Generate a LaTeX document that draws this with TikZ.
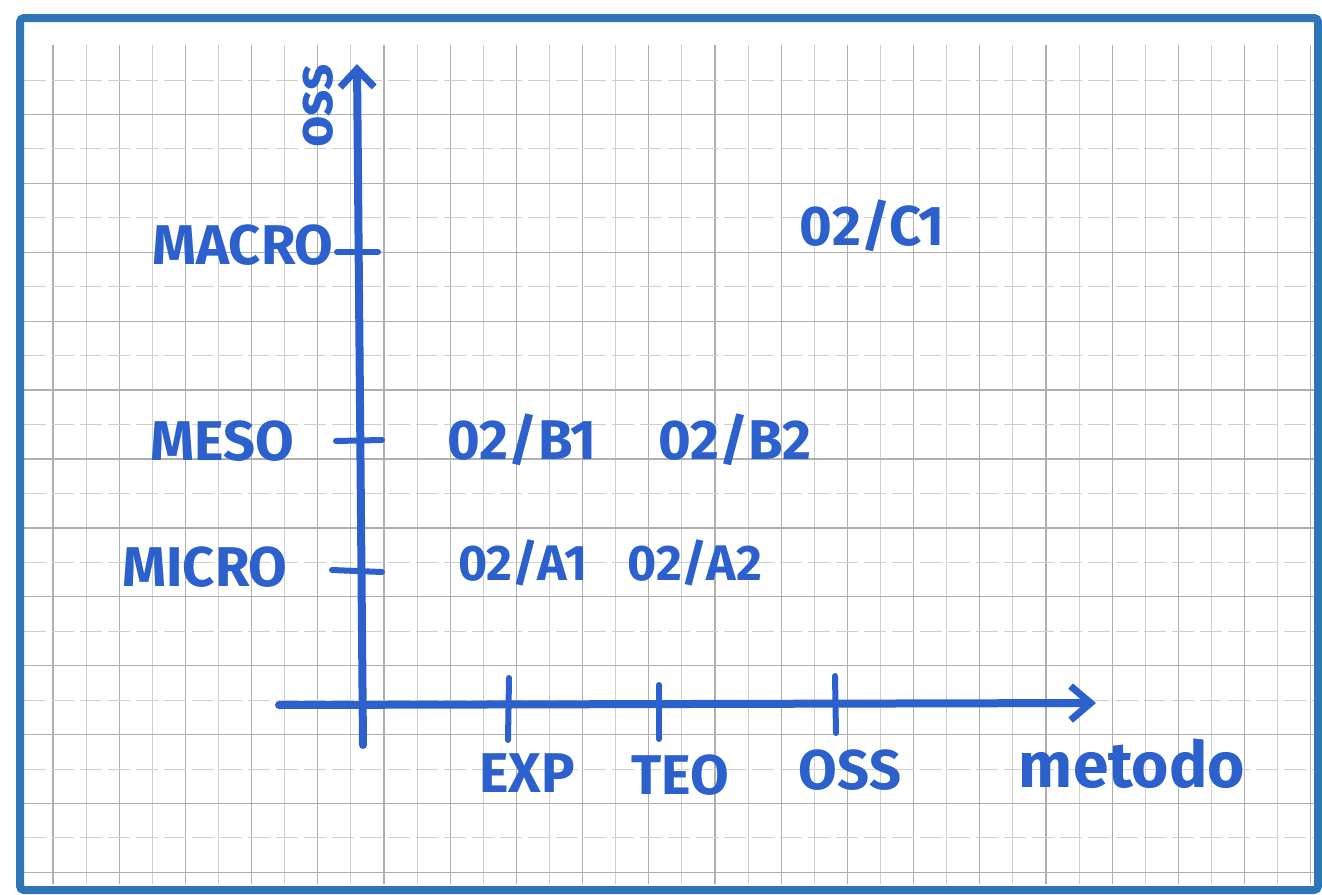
\documentclass[tikz,border=0pt]{standalone}
\usepackage{fontspec}
\setmainfont{Fira Sans}
\usetikzlibrary{arrows.meta}
\definecolor{ink}{RGB}{44,96,204}
\definecolor{frame}{RGB}{46,117,182}
\definecolor{gridc}{RGB}{175,175,175}
\tikzset{
  axis/.style={draw=ink, line width=8pt, line cap=round},
  tick/.style={draw=ink, line width=6pt, line cap=round},
  hand/.style={text=ink, font=\bfseries\fontsize{56}{56}\selectfont, inner sep=0pt},
  cell/.style={text=ink, font=\bfseries\fontsize{56}{56}\selectfont, inner sep=0pt},
  cellsmall/.style={cell, font=\bfseries\fontsize{50}{50}\selectfont},
  gridline/.style={draw=gridc, line width=1.3pt},
  gridfaint/.style={draw=gridc!60, line width=1pt},
}
\begin{document}
\begin{tikzpicture}[x=1pt,y=-1pt]
\useasboundingbox (0,0) rectangle (1322,894);
\fill[white] (0,0) rectangle (1322,894);
% grid paper
\foreach \k in {0,...,38}{
  \pgfmathsetmacro{\xx}{53+33.1*\k}
  \ifodd\k
    \draw[gridfaint] (\xx,45) -- (\xx,884);
  \else
    \draw[gridline] (\xx,45) -- (\xx,884);
  \fi
}
\foreach \k in {0,...,23}{
  \pgfmathsetmacro{\yy}{80+34.45*\k}
  \ifodd\k
    \draw[gridline] (24,\yy) -- (1316,\yy);
  \else
    \draw[gridfaint, dash pattern=on 22pt off 6pt] (24,\yy) -- (1316,\yy);
  \fi
}
% frame
\draw[frame, line width=8pt, rounded corners=4pt] (20,18) rectangle (1318,890);
% axes
\coordinate (yb) at (363,745);
\coordinate (yt) at (357,64);
\coordinate (xl) at (279,705);
\coordinate (xr) at (1096,703);
\draw[axis, -{Straight Barb[length=18pt,width=34pt,line width=7pt]}] (yb) -- (yt);
\draw[axis, -{Straight Barb[length=20pt,width=34pt,line width=7pt]}] (xl) -- (xr);
% y ticks
\coordinate (tma1) at (337,252); \coordinate (tma2) at (378,252);
\coordinate (tme1) at (336,441); \coordinate (tme2) at (382,440);
\coordinate (tmi1) at (332,570); \coordinate (tmi2) at (382,572);
\draw[tick] (tma1) -- (tma2);
\draw[tick] (tme1) -- (tme2);
\draw[tick] (tmi1) -- (tmi2);
% x ticks
\coordinate (te1) at (509,678); \coordinate (te2) at (508,740);
\coordinate (tt1) at (659,685); \coordinate (tt2) at (659,739);
\coordinate (to1) at (835,676); \coordinate (to2) at (836,733);
\draw[tick] (te1) -- (te2);
\draw[tick] (tt1) -- (tt2);
\draw[tick] (to1) -- (to2);
% labels
\node[hand] (macro) at (243,245) {MACRO};
\node[hand] (meso) at (222,441) {MESO};
\node[hand] (micro) at (205,567) {MICRO};
\node[hand] (exp) at (527,773) {EXP};
\node[hand] (teo) at (680,775) {TEO};
\node[hand] (oss) at (850,770) {OSS};
\node[hand, font=\bfseries\fontsize{64}{64}\selectfont] (metodo) at (1132,764) {metodo};
\node[hand, rotate=90, font=\bfseries\fontsize{54}{54}\selectfont] (ylab) at (318,106) {oss};
% cells
\node[cell] (c1) at (872,226) {02/C1};
\node[cell] (b1) at (522,440) {02/B1};
\node[cell] (b2) at (735,440) {02/B2};
\node[cellsmall] (a1) at (523,563) {02/A1};
\node[cellsmall] (a2) at (695,563) {02/A2};
\end{tikzpicture}
\end{document}
